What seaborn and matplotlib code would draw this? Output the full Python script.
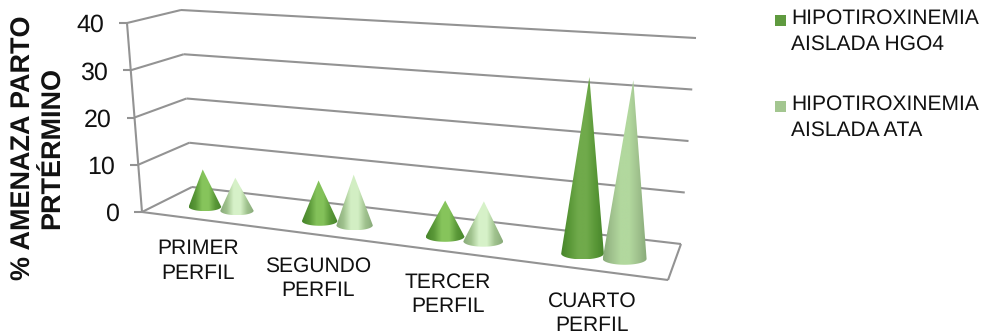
import numpy as np
import matplotlib
matplotlib.use("Agg")
import matplotlib.pyplot as plt
from matplotlib.path import Path
from matplotlib.patches import PathPatch
import seaborn as sns

# Chart data
categories = ["PRIMER\nPERFIL", "SEGUNDO\nPERFIL", "TERCER\nPERFIL", "CUARTO\nPERFIL"]
series_names = ["HIPOTIROXINEMIA\nAISLADA HGO4", "HIPOTIROXINEMIA\nAISLADA ATA"]
hgo4_values = [8, 8.4, 7.2, 34]
ata_values = [7, 10.4, 7.9, 34]
y_ticks = [0, 10, 20, 30, 40]
y_title_lines = ["% AMENAZA PARTO", "PRTÉRMINO"]

sns.set_theme(style="white")
plt.rcParams["font.family"] = ["Liberation Sans", "DejaVu Sans"]
plt.rcParams["text.hinting"] = "no_hinting"
plt.rcParams["text.hinting_factor"] = 1

W, H = 988, 335
fig = plt.figure(figsize=(W / 100, H / 100), dpi=100, facecolor="white")
ax = fig.add_axes([0, 0, 1, 1])

# Corners of the box: (front/back, left/right, floor/top)
FL0, FR0 = np.array([142.0, 212.0]), np.array([668.0, 280.0])
BL0, BR0 = np.array([192.0, 187.0]), np.array([681.0, 244.0])
FL1, BL1 = np.array([127.0, 23.0]), np.array([181.0, 10.0])
BR1 = np.array([696.0, 38.0])
FR1 = FR0 + (FL1 - FL0) + (BR1 - BR0 - (BL1 - BL0))
V_MAX = 40.0
PERSPECTIVE = 1.2


def foreshorten(t):
    return t / (t + PERSPECTIVE * (1 - t))


def project(t, d, v):
    """Map slot position t, depth d and value v onto the canvas."""
    u = foreshorten(t)
    s = v / V_MAX
    floor = (1 - d) * ((1 - u) * FL0 + u * FR0) + d * ((1 - u) * BL0 + u * BR0)
    top = (1 - d) * ((1 - u) * FL1 + u * FR1) + d * ((1 - u) * BL1 + u * BR1)
    return (1 - s) * floor + s * top


# Box frame, gridlines and tick stubs
GRID = "#939393"
LW = 1.5


def seg(a, b):
    ax.plot([a[0], b[0]], [a[1], b[1]], color=GRID, lw=LW, solid_capstyle="butt", zorder=1)


for v in y_ticks:
    left_front = project(0, 0, v)
    left_back = project(0, 1, v)
    seg(left_front, left_back)
    seg(left_back, project(1, 1, v))
    seg(left_front + np.array([-8, 0]), left_front)
    ax.text(left_front[0] - 23, left_front[1], str(v), fontsize=18, color="#111111",
            ha="right", va="center_baseline")
seg(project(0, 0, 0), project(0, 0, V_MAX))
seg(project(0, 0, 0), project(1, 0, 0))
seg(project(1, 0, 0), project(1, 1, 0))

# Cones, each shaded across its width; short cones carry a stronger highlight
DEPTH = 0.42
SLOT_OFFSET = 0.036
CATEGORY_SHIFT = 0.008
RADIUS = 0.037
dark_stops = ("#47852a", "#5a9838", "#8ccb60", "#70aa4b")
light_stops = ("#88aa79", "#a0c28e", "#e0f8d3", "#b2d89e")
ramp = np.linspace(0, 1, 128)[None, :]


def shade_for(value, stops):
    edge, side, bright, soft = stops
    k = value / V_MAX
    peak = sns.blend_palette([bright, soft], n_colors=11)[int(round(10 * min(1, 1.25 * k)))]
    return sns.blend_palette([edge, side, peak, peak, side, edge], as_cmap=True)


def draw_cone(t, value, stops, z):
    base = project(t, DEPTH, 0)
    apex = project(t, DEPTH, value)
    a = (project(t + RADIUS, DEPTH, 0)[0] - project(t - RADIUS, DEPTH, 0)[0]) / 2
    floor_depth = project(t, 0, 0)[1] - project(t, 1, 0)[1]
    b = 0.17 * floor_depth
    angles = np.linspace(0, np.pi, 40)
    rim = np.c_[base[0] + a * np.cos(angles), base[1] + b * np.sin(angles)]
    verts = np.vstack([[apex], rim, [apex]])
    codes = [Path.MOVETO] + [Path.LINETO] * (len(verts) - 2) + [Path.CLOSEPOLY]
    patch = PathPatch(Path(verts, codes), facecolor="none", edgecolor="none", transform=ax.transData)
    ax.add_patch(patch)
    img = ax.imshow(ramp, cmap=shade_for(value, stops), aspect="auto", interpolation="bilinear",
                    extent=(base[0] - a, base[0] + a, base[1] + b, apex[1]), zorder=z)
    img.set_clip_path(patch)


for i, (first, second) in enumerate(zip(hgo4_values, ata_values)):
    centre = (i + 0.5) / len(categories) + CATEGORY_SHIFT
    draw_cone(centre - SLOT_OFFSET, first, dark_stops, 3 + i)
    draw_cone(centre + SLOT_OFFSET, second, light_stops, 3.5 + i)

# Category labels
label_x = [198, 318, 448, 592]
label_y = [261.5, 278.5, 294.5, 313.5]
for name, x, y in zip(categories, label_x, label_y):
    ax.text(x, y, name, fontsize=15, color="#111111", ha="center", va="center",
            linespacing=1.35, multialignment="center")

# Axis title, two rotated lines
for line, x in zip(y_title_lines, [24, 53]):
    ax.text(x, 148, line, fontsize=19.2, fontweight="bold", color="#111111",
            rotation=90, ha="center", va="center")

# Legend
swatch_colours = ["#5f9a3f", "#a3c690"]
legend_y = [31.5, 117.5]
for name, colour, y in zip(series_names, swatch_colours, legend_y):
    ax.add_patch(plt.Rectangle((775, y - 16.5), 11, 11, facecolor=colour, edgecolor="none"))
    ax.text(791, y, name, fontsize=15.2, color="#111111", ha="left", va="center",
            linespacing=1.4, multialignment="left")

ax.set_xlim(0, W)
ax.set_ylim(H, 0)
ax.axis("off")
fig.savefig("out.png", dpi=100, facecolor="white")
